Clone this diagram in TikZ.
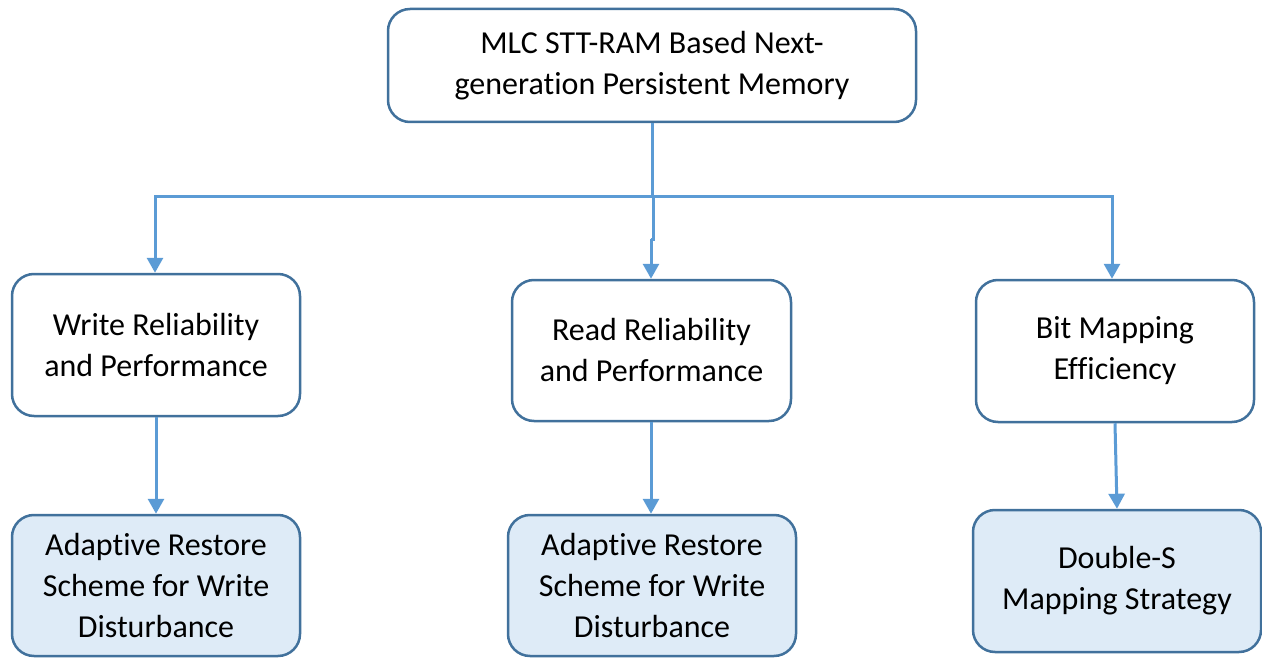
\documentclass[tikz,border=0pt]{standalone}
\usepackage{fontspec}
\setmainfont[Ligatures=NoCommon]{Carlito}
\usetikzlibrary{arrows.meta}
\definecolor{linecol}{HTML}{5B9BD5}
\definecolor{bordercol}{HTML}{41719C}
\definecolor{fillcol}{HTML}{DEEBF7}
\begin{document}
\begin{tikzpicture}[x=1pt,y=-1pt,
  box/.style={draw=bordercol, line width=2.5pt, rounded corners=22pt, align=center,
    font=\fontsize{32}{41}\selectfont, inner sep=0pt, fill=white},
  leaf/.style={box, fill=fillcol},
  conn/.style={draw=linecol, line width=3pt},
  arr/.style={conn, -{Triangle[width=16pt,length=15pt]}}]
\useasboundingbox (0,0) rectangle (1262,658);
\node[box, minimum width=528pt, minimum height=113pt] (top) at (652,65.5) {MLC STT-RAM Based Next-\\generation Persistent Memory};
\node[box, minimum width=288pt, minimum height=142pt] (write) at (156,345) {Write Reliability\\and Performance};
\node[box, minimum width=279pt, minimum height=141pt] (read) at (651.5,350.5) {Read Reliability\\and Performance};
\node[box, minimum width=278pt, minimum height=142pt] (bit) at (1115,351) {Bit Mapping\\Efficiency};
\node[leaf, minimum width=288pt, minimum height=141pt] (ars1) at (156,585.5) {Adaptive Restore\\Scheme for Write\\Disturbance};
\node[leaf, minimum width=288pt, minimum height=141pt] (ars2) at (652,585.5) {Adaptive Restore\\Scheme for Write\\Disturbance};
\node[leaf, minimum width=288pt, minimum height=142pt] (dss) at (1117,581) {Double-S\\Mapping Strategy};
\coordinate (j) at (652,197);
\coordinate (jm) at (653,197);
\coordinate (k1) at (653,239);
\coordinate (k2) at (651,239);
\draw[conn] (top.south) -- (j);
\draw[arr] (j) -| ([xshift=-1pt]write.north);
\draw[arr] (j) -| ([xshift=-3pt]bit.north);
\draw[conn] (jm) -- (k1) -- (k2);
\draw[arr] (k2) -- (k2 |- read.north);
\draw[arr] (write.south) -- (write.south |- ars1.north);
\draw[arr] ([xshift=-0.5pt]read.south) -- ([xshift=-0.5pt]read.south |- ars2.north);
\draw[arr] (bit.south) -- (dss.north);
\end{tikzpicture}
\end{document}
